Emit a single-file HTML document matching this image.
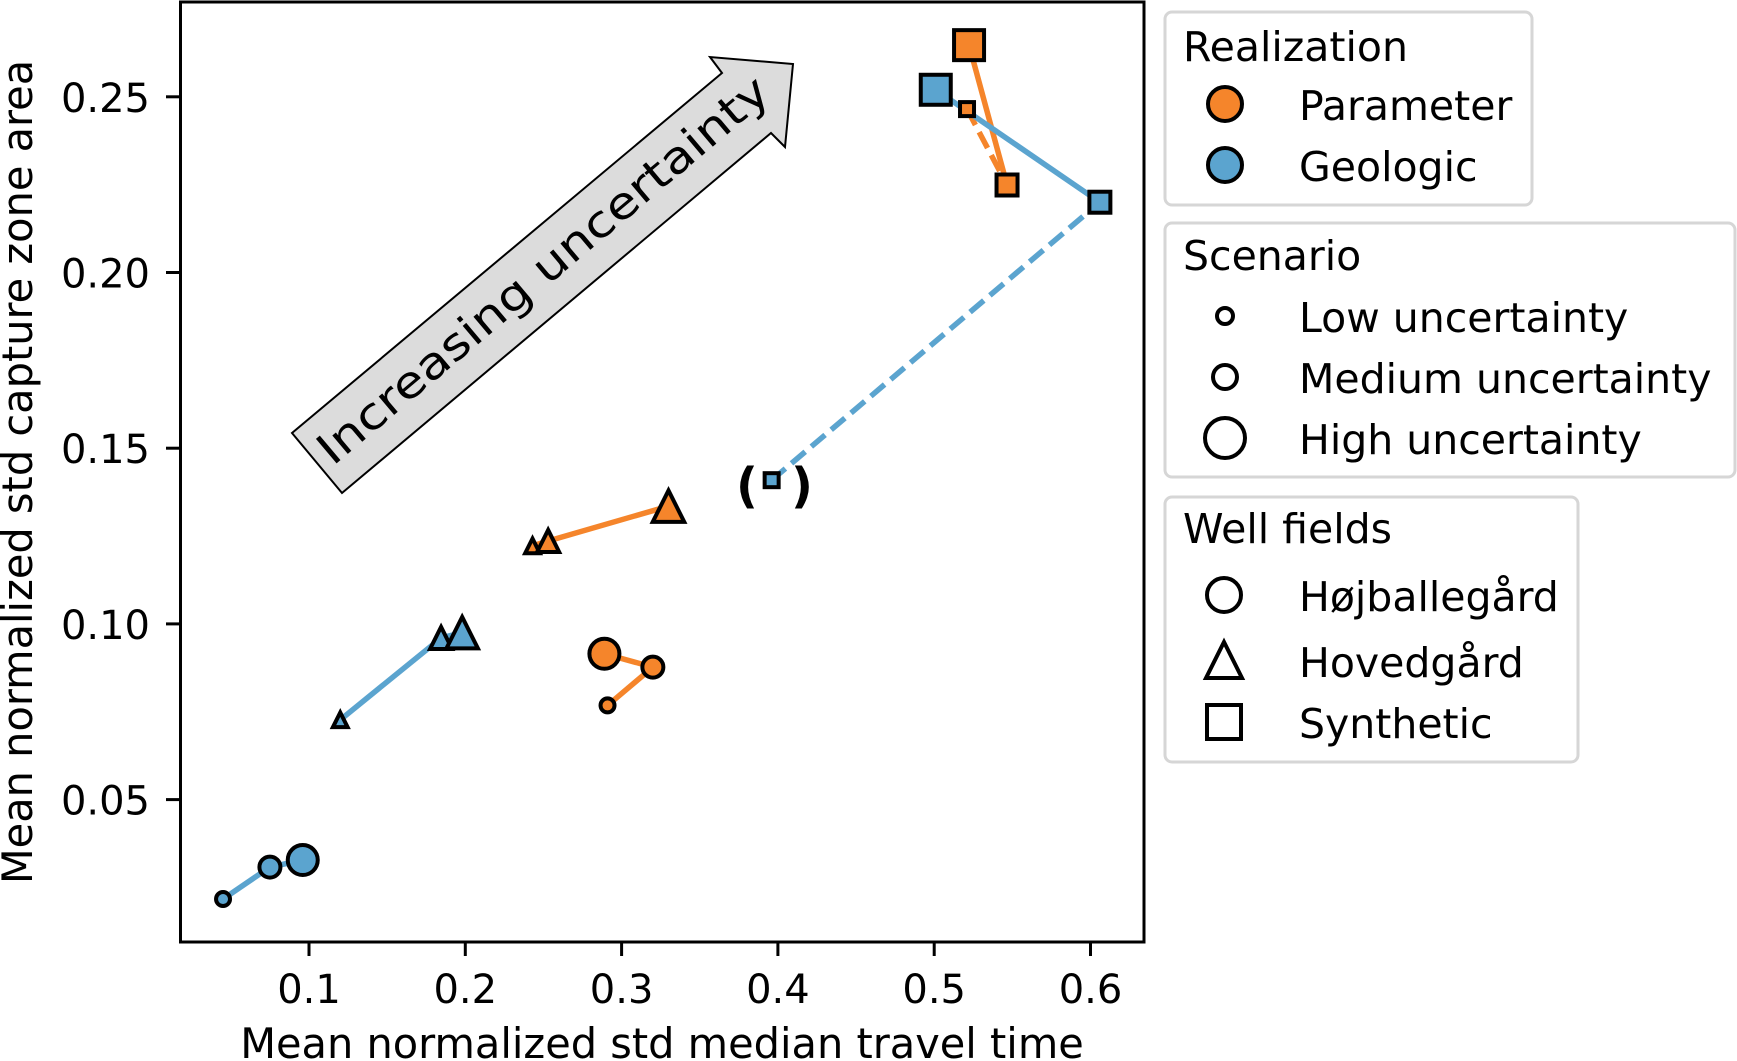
<!DOCTYPE html>
<html><head><meta charset="utf-8"><style>
html,body{margin:0;padding:0;background:#fff;}
svg{display:block;font-family:"DejaVu Sans","Liberation Sans",sans-serif;}
</style></head><body>
<svg id="chart" width="1737" height="1061" viewBox="0 0 1737 1061" xmlns="http://www.w3.org/2000/svg">
<rect x="0" y="0" width="1737" height="1061" fill="#fff"/>
<g id="lines"></g>
<g id="arrow">
<polygon points="292,433 342,493 771,133 785,147 793,64 710,57 722,73" fill="#dcdcdc" stroke="#000" stroke-width="2"/>
<text x="543" y="285" transform="rotate(-40.1 543 270)" text-anchor="middle" font-size="44" textLength="575" lengthAdjust="spacingAndGlyphs">Increasing uncertainty</text>
</g>
<g id="marks"></g>
<text x="747" y="502" font-size="48" font-weight="bold" text-anchor="middle">(</text>
<text x="802" y="502" font-size="48" font-weight="bold" text-anchor="middle">)</text>
<rect x="180.5" y="2" width="963.5" height="940" fill="none" stroke="#000" stroke-width="3"/>
<g id="xticks"></g>
<g id="yticks"></g>
<text x="662" y="1058" text-anchor="middle" font-size="41.5">Mean normalized std median travel time</text>
<text x="0" y="0" transform="translate(32 472) rotate(-90)" text-anchor="middle" font-size="41.5">Mean normalized std capture zone area</text>

<g>
<rect x="1165" y="12" width="367" height="193" rx="7" fill="#fff" stroke="#d6d6d6" stroke-width="3"/>
<text x="1183" y="61" font-size="41">Realization</text>
<circle cx="1225" cy="104" r="17" fill="#f5852b" stroke="#000" stroke-width="4"/>
<text x="1299" y="120" font-size="41">Parameter</text>
<circle cx="1225" cy="165" r="17" fill="#5ba4cf" stroke="#000" stroke-width="4"/>
<text x="1299" y="181" font-size="41">Geologic</text>
</g>
<g>
<rect x="1165" y="223" width="570" height="254" rx="7" fill="#fff" stroke="#d6d6d6" stroke-width="3"/>
<text x="1183" y="270" font-size="41">Scenario</text>
<circle cx="1225" cy="316" r="8" fill="none" stroke="#000" stroke-width="4"/>
<text x="1299" y="332" font-size="41">Low uncertainty</text>
<circle cx="1225" cy="377" r="12" fill="none" stroke="#000" stroke-width="4"/>
<text x="1299" y="393" font-size="41">Medium uncertainty</text>
<circle cx="1225" cy="438" r="20" fill="none" stroke="#000" stroke-width="4"/>
<text x="1299" y="454" font-size="41">High uncertainty</text>
</g>
<g>
<rect x="1165" y="497" width="413" height="265" rx="7" fill="#fff" stroke="#d6d6d6" stroke-width="3"/>
<text x="1183" y="543" font-size="41">Well fields</text>
<circle cx="1224" cy="595" r="17" fill="none" stroke="#000" stroke-width="4"/>
<text x="1299" y="611" font-size="41">Højballegård</text>
<polygon points="1224,642 1242,678 1206,678" fill="none" stroke="#000" stroke-width="4"/>
<text x="1299" y="677" font-size="41">Hovedgård</text>
<rect x="1207" y="705" width="34" height="34" fill="none" stroke="#000" stroke-width="4"/>
<text x="1299" y="738" font-size="41">Synthetic</text>
</g>
</svg>
<script>
const xTicks = [0.1, 0.2, 0.3, 0.4, 0.5, 0.6];
const xTickLabels = ["0.1", "0.2", "0.3", "0.4", "0.5", "0.6"];
const yTicks = [0.05, 0.10, 0.15, 0.20, 0.25];
const yTickLabels = ["0.05", "0.10", "0.15", "0.20", "0.25"];
// order of each series: low, medium, high
const scenarios = ["low", "medium", "high"];
const paramCircleX = [0.291, 0.320, 0.289];
const paramCircleY = [0.0768, 0.0877, 0.0915];
const paramTriX = [0.243, 0.253, 0.330];
const paramTriY = [0.1222, 0.1236, 0.1335];
const paramSquareX = [0.521, 0.5466, 0.5223];
const paramSquareY = [0.2465, 0.2249, 0.2647];
const geoCircleX = [0.045, 0.075, 0.096];
const geoCircleY = [0.0217, 0.0308, 0.0328];
const geoTriX = [0.120, 0.1845, 0.198];
const geoTriY = [0.0727, 0.0960, 0.0975];
const geoSquareX = [0.396, 0.606, 0.501];
const geoSquareY = [0.1409, 0.2200, 0.2520];

const NS = "http://www.w3.org/2000/svg";
function xs(v){ return 309 + (v - 0.1) * 1563; }
function ys(v){ return 96.8 + (0.25 - v) * 3514; }
const ORANGE = "#f5852b", BLUE = "#5ba4cf";
const sizes = [18, 25, 34];

function mk(tag, attrs, parent){
  const e = document.createElementNS(NS, tag);
  for (const k in attrs) e.setAttribute(k, attrs[k]);
  parent.appendChild(e);
  return e;
}
const xg = document.getElementById('xticks');
xTicks.forEach((t, i) => {
  const l = mk('line', {x1: xs(t), x2: xs(t), y1: 942, y2: 956, stroke: '#000', 'stroke-width': 3}, xg);
  
  
  const tx = mk('text', {x: xs(t), y: 1003, 'text-anchor': 'middle', 'font-size': 40}, xg);
  tx.textContent = xTickLabels[i];
  
  
});
const yg = document.getElementById('yticks');
yTicks.forEach((t, i) => {
  const l = mk('line', {x1: 166, x2: 180.5, y1: ys(t), y2: ys(t), stroke: '#000', 'stroke-width': 3}, yg);
  
  
  const tx = mk('text', {x: 150, y: ys(t) + 15, 'text-anchor': 'end', 'font-size': 40}, yg);
  tx.textContent = yTickLabels[i];
  
  
});

const series = [
  {name:'parameter-hojballegard', X: paramCircleX, Y: paramCircleY, shape:'circle', color: ORANGE},
  {name:'parameter-hovedgard', X: paramTriX, Y: paramTriY, shape:'tri', color: ORANGE},
  {name:'parameter-synthetic', X: paramSquareX, Y: paramSquareY, shape:'square', color: ORANGE},
  {name:'geologic-hojballegard', X: geoCircleX, Y: geoCircleY, shape:'circle', color: BLUE},
  {name:'geologic-hovedgard', X: geoTriX, Y: geoTriY, shape:'tri', color: BLUE},
  {name:'geologic-synthetic', X: geoSquareX, Y: geoSquareY, shape:'square', color: BLUE}
];
const lg = document.getElementById('lines');
const mg = document.getElementById('marks');
series.forEach(s => {
  for (let i = 0; i < 2; i++) {
    const a = {x1: xs(s.X[i]), y1: ys(s.Y[i]), x2: xs(s.X[i+1]), y2: ys(s.Y[i+1]), stroke: s.color, 'stroke-width': 5.5};
    if (s.shape === 'square' && i === 0) a['stroke-dasharray'] = '18 8';
    const l = mk('line', a, lg);
    
    
  }
});
series.forEach(s => {
  for (let i = 0; i < 3; i++) {
    const cx = xs(s.X[i]), cy = ys(s.Y[i]), d = sizes[i] - 4;
    let e;
    if (s.shape === 'circle') e = mk('circle', {cx, cy, r: d/2}, mg);
    else if (s.shape === 'square') e = mk('rect', {x: cx - d/2, y: cy - d/2, width: d, height: d}, mg);
    else { const h = d * 1.05; e = mk('polygon', {points: `${cx},${cy-h/2} ${cx+h/2},${cy+h/2} ${cx-h/2},${cy+h/2}`}, mg); }
    e.setAttribute('fill', s.color);
    e.setAttribute('stroke', '#000');
    e.setAttribute('stroke-width', 4);
    e.setAttribute('stroke-linejoin', 'miter');
    
    
  }
});
</script>
</body></html>
